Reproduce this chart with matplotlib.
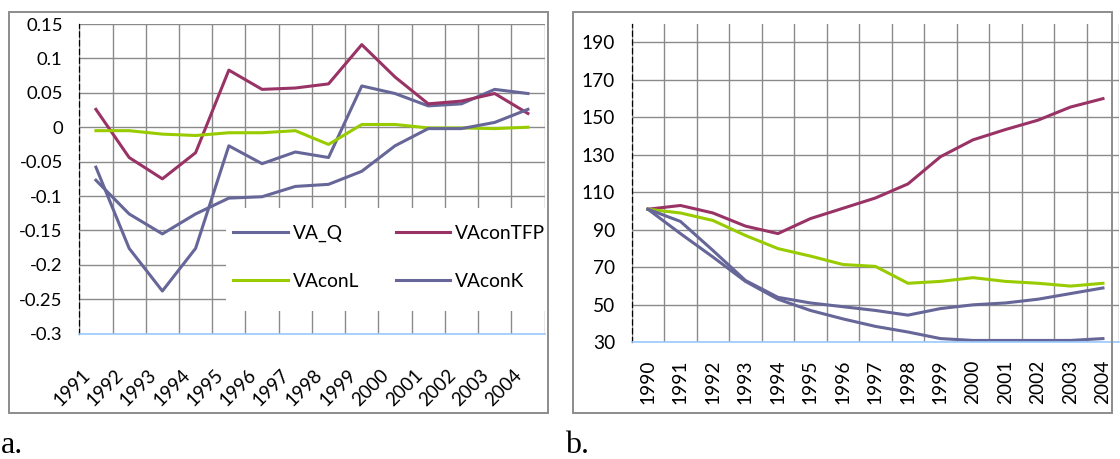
import numpy as np
import matplotlib.pyplot as plt
from matplotlib.patches import Rectangle

# ── data ────────────────────────────────────────────────────────
years_a = ['1991', '1992', '1993', '1994', '1995', '1996', '1997',
           '1998', '1999', '2000', '2001', '2002', '2003', '2004']
va_q_a   = [-0.058, -0.176, -0.238, -0.176, -0.027, -0.053, -0.036,
            -0.044, 0.060, 0.049, 0.031, 0.034, 0.055, 0.049]
vatfp_a  = [0.026, -0.044, -0.075, -0.037, 0.083, 0.055, 0.057,
            0.063, 0.120, 0.073, 0.034, 0.038, 0.049, 0.020]
val_a    = [-0.005, -0.005, -0.010, -0.012, -0.008, -0.008, -0.005,
            -0.025, 0.004, 0.004, -0.001, -0.001, -0.002, 0.000]
vak_a    = [-0.077, -0.126, -0.155, -0.126, -0.103, -0.101, -0.086,
            -0.083, -0.064, -0.027, -0.002, -0.002, 0.007, 0.026]
yticks_a = [0.15, 0.1, 0.05, 0, -0.05, -0.1, -0.15, -0.2, -0.25, -0.3]
ylabels_a = ['0.15', '0.1', '0.05', '0', '-0.05', '-0.1', '-0.15',
             '-0.2', '-0.25', '-0.3']

years_b = ['1990', '1991', '1992', '1993', '1994', '1995', '1996', '1997',
           '1998', '1999', '2000', '2001', '2002', '2003', '2004']
vatfp_b = [101, 103, 99, 92, 88, 96, 101.5, 107, 114.5, 129, 138, 143.5,
           148.5, 155.5, 160]
val_b   = [101, 99, 95, 87, 80, 76, 71.5, 70.5, 61.5, 62.5, 64.5, 62.5,
           61.5, 60, 61.5]
vak_b   = [101, 94.5, 79, 63, 54, 51, 49, 47, 44.5, 48, 50, 51, 53, 56, 59]
va_q_b  = [101, 88, 75.5, 62.5, 53, 47, 42.5, 38.5, 35.5, 32, 31, 31, 31,
           31, 32]
yticks_b = [30, 50, 70, 90, 110, 130, 150, 170, 190]

# ── styles ──────────────────────────────────────────────────────
BLUE   = '#666699'
PLUM   = '#993366'
LIME   = '#99CC00'
GRID   = '#8a8a8a'
AXBLUE = '#99CCFF'
LW     = 2.2

plt.rcParams['font.family'] = ['Lato', 'DejaVu Sans']

fig = plt.figure(figsize=(11.2, 4.59), dpi=100)

# chart frames
for x0 in (0.0080, 0.5119):
    fig.patches.append(Rectangle((x0, 0.0996), 0.4812, 0.875,
                                 transform=fig.transFigure, fill=False,
                                 edgecolor='#8c8c8c', lw=1.4))


def style_axes(ax, n):
    for s in ('top', 'right'):
        ax.spines[s].set_visible(False)
    ax.spines['left'].set_linestyle((0, (4, 3)))
    ax.spines['left'].set_color('black')
    ax.spines['left'].set_linewidth(0.9)
    ax.spines['bottom'].set_color(AXBLUE)
    ax.spines['bottom'].set_linewidth(1.2)
    ax.set_axisbelow(True)
    ax.set_xticks(np.arange(n + 1) - 0.5, minor=True)
    ax.grid(which='minor', axis='x', color=GRID, lw=1.0)
    ax.grid(which='major', axis='y', color=GRID, lw=1.0)
    ax.tick_params(which='both', length=0)
    ax.set_xlim(-0.5, n - 0.5)


# ── panel a ─────────────────────────────────────────────────────
ax1 = fig.add_axes([0.0708, 0.273, 0.4154, 0.6747])
xa = np.arange(len(years_a))
style_axes(ax1, len(years_a))
l_q, = ax1.plot(xa, va_q_a, color=BLUE, lw=LW, label='VA_Q')
l_t, = ax1.plot(xa, vatfp_a, color=PLUM, lw=LW, label='VAconTFP')
l_l, = ax1.plot(xa, val_a, color=LIME, lw=LW, label='VAconL')
l_k, = ax1.plot(xa, vak_a, color=BLUE, lw=LW, label='VAconK')
ax1.set_ylim(-0.3, 0.15)
ax1.set_yticks(yticks_a)
ax1.set_yticklabels(ylabels_a, fontsize=13.3)
ax1.tick_params(axis='y', pad=12)
ax1.set_xticks(xa - 0.5 + 0.24)
ax1.set_xticklabels(years_a, fontsize=13.5, rotation=45, ha='right',
                    va='center', rotation_mode='anchor')
ax1.tick_params(axis='x', pad=28)

# white legend area hiding the grid
ax1.add_patch(Rectangle((0.315, 0.073), 0.69, 0.333, transform=ax1.transAxes,
                        facecolor='white', edgecolor='none', zorder=1.5,
                        clip_on=False))
ax1.legend(handles=[l_q, l_l, l_t, l_k], ncol=2, frameon=False,
           loc='upper left', bbox_to_anchor=(0.331, 0.352),
           borderpad=0, borderaxespad=0, handlelength=2.85,
           handletextpad=0.25, columnspacing=1.9, labelspacing=1.62,
           fontsize=13.8)

# ── panel b ─────────────────────────────────────────────────────
ax2 = fig.add_axes([0.564, 0.2542, 0.4353, 0.6943])
xb = np.arange(len(years_b))
style_axes(ax2, len(years_b))
ax2.plot(xb, vatfp_b, color=PLUM, lw=LW)
ax2.plot(xb, val_b, color=LIME, lw=LW)
ax2.plot(xb, vak_b, color=BLUE, lw=LW)
ax2.plot(xb, va_q_b, color=BLUE, lw=LW)
ax2.set_ylim(30, 200)
ax2.set_yticks(yticks_b)
ax2.set_yticklabels([str(v) for v in yticks_b], fontsize=13.8)
ax2.tick_params(axis='y', pad=12)
ax2.set_xticks(xb)
ax2.set_xticklabels(years_b, fontsize=13.8, rotation=90)
ax2.tick_params(axis='x', pad=12.7)

# panel captions
fig.text(0.001, (459 - 452.7) / 459, 'a.', family='Liberation Serif',
         fontsize=23, ha='left', va='baseline')
fig.text(565 / 1120, (459 - 452.7) / 459, 'b.', family='Liberation Serif',
         fontsize=23, ha='left', va='baseline')

fig.savefig('out.png', dpi=100)
